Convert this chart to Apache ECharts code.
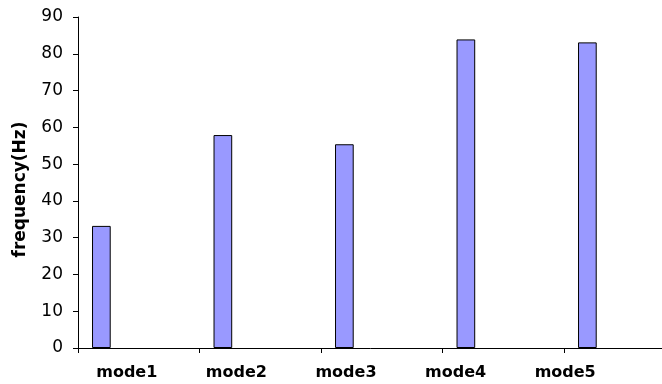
<!DOCTYPE html>
<html>
<head>
<meta charset="utf-8">
<script src="https://cdn.jsdelivr.net/npm/echarts@6/dist/echarts.min.js"></script>
<style>
  html, body { margin: 0; padding: 0; background: #fff; }
  #chart { width: 662px; height: 384px; }
</style>
</head>
<body>
<div id="chart"></div>
<script>
// Natural frequency of each vibration mode
const modes = ['mode1', 'mode2', 'mode3', 'mode4', 'mode5'];
const frequencyHz = [33.2, 57.9, 55.4, 83.9, 83.1];
const yTicks = { min: 0, max: 90, step: 10 };
// Unused series slots that share each category with the frequency bars
const emptySlots = 4;

const chart = echarts.init(document.getElementById('chart'), null, { renderer: 'canvas' });

const series = [{
  name: 'frequency',
  type: 'bar',
  xAxisIndex: 0,
  yAxisIndex: 0,
  data: frequencyHz,
  barGap: '0%',
  barCategoryGap: '23.08%',
  itemStyle: { color: '#9999ff', borderColor: '#000000', borderWidth: 1 },
  silent: true
}];
for (let i = 0; i < emptySlots; i++) {
  series.push({
    name: 'slot' + (i + 1),
    type: 'bar',
    xAxisIndex: 0,
    yAxisIndex: 0,
    data: [],
    barGap: '0%',
    barCategoryGap: '23.08%'
  });
}

const option = {
  animation: false,
  backgroundColor: '#ffffff',
  grid: [
    // plot area runs past the right edge of the canvas
    { left: 78, width: 607.5, top: 17, bottom: 36, outerBoundsMode: 'none', containLabel: false },
    { left: 72, right: 42, top: 17, bottom: 36, outerBoundsMode: 'none', containLabel: false }
  ],
  xAxis: [{
    type: 'category',
    gridIndex: 0,
    data: modes,
    axisLine: { lineStyle: { color: '#000', width: 1 } },
    axisTick: { show: true, length: 5, lineStyle: { color: '#000' } },
    axisLabel: { show: false },
    splitLine: { show: false }
  }, {
    type: 'category',
    gridIndex: 1,
    data: modes,
    axisLine: { show: false },
    axisTick: { show: false },
    axisLabel: {
      show: true,
      margin: 17,
      color: '#000',
      fontFamily: 'DejaVu Sans',
      fontWeight: 'bold',
      fontSize: 16
    },
    splitLine: { show: false }
  }],
  yAxis: [{
    type: 'value',
    gridIndex: 0,
    min: yTicks.min,
    max: yTicks.max,
    interval: yTicks.step,
    name: 'frequency(Hz)',
    nameLocation: 'middle',
    nameGap: 49,
    nameRotate: 90,
    nameTextStyle: {
      color: '#000',
      fontFamily: 'DejaVu Sans',
      fontWeight: 'bold',
      fontSize: 17,
      padding: [0, 14, 0, 0]
    },
    axisLine: { show: true, lineStyle: { color: '#000', width: 1 } },
    axisTick: { show: true, length: 5, lineStyle: { color: '#000' } },
    axisLabel: {
      margin: 15,
      color: '#000',
      fontFamily: 'DejaVu Sans',
      fontSize: 17
    },
    splitLine: { show: false }
  }, {
    type: 'value',
    gridIndex: 1,
    show: false,
    min: yTicks.min,
    max: yTicks.max
  }],
  series: series
};

chart.setOption(option);
</script>
</body>
</html>
